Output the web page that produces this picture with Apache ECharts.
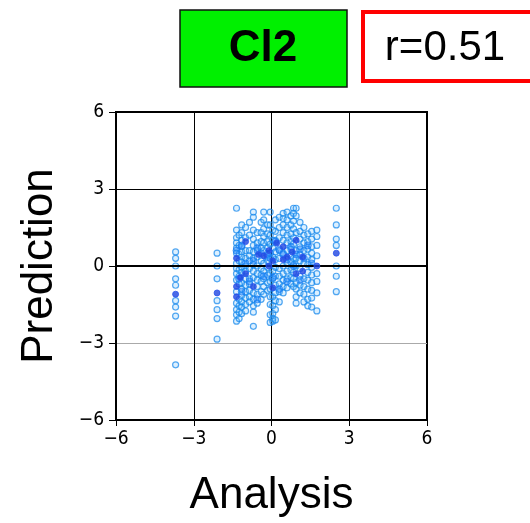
<!DOCTYPE html>
<html><head><meta charset="utf-8">
<script src="https://cdn.jsdelivr.net/npm/echarts@6/dist/echarts.min.js"></script>
<style>html,body{margin:0;padding:0;background:#fff}#c{width:530px;height:523px}</style>
</head><body><div id="c"></div>
<script>
const titleText = "Cl2";
const corrText = "r=0.51";
const xName = "Analysis";
const yName = "Prediction";
const axisMin = -6, axisMax = 6, axisStep = 3;

// Analysis value of each column of points
const colAnalysis = [-3.7, -2.1, -1.35, -1.25, -1.15, -1.0, -0.85, -0.7, -0.55, -0.4, -0.3, -0.15, -0.05, 0.05, 0.15, 0.3, 0.45, 0.6, 0.75, 0.85, 0.95, 1.1, 1.25, 1.4, 1.55, 1.75, 2.5];
// Prediction values in each column (hollow markers)
const colPrediction = [
  [0.55, 0.3, 0.0, -0.5, -0.75, -1.35, -1.6, -1.95, -3.85],
  [0.5, 0.0, -0.5, -1.35, -1.7, -2.05, -2.85],
  [2.25, 1.4, 1.1, 0.9, 0.7, 0.5, 0.1, -0.1, -0.3, -0.55, -1.0, -1.45, -1.7, -1.9, -2.15],
  [1.2, 0.8, 0.45, 0.2, -0.15, -0.4, -0.7, -1.3, -1.55, -1.8, -2.05],
  [1.6, 1.3, 1.0, 0.75, 0.55, 0.35, 0.15, -0.05, -0.25, -0.65, -0.9, -1.15, -1.4, -1.6, -1.85],
  [1.5, 1.1, 0.6, 0.3, 0.0, -0.2, -0.5, -0.75, -1.0, -1.25, -1.5, -1.75],
  [1.7, 1.2, 0.6, 0.4, 0.2, -0.1, -0.5, -0.7, -0.95, -1.2, -1.4],
  [2.1, 1.9, 1.4, 1.05, 0.8, 0.55, 0.3, 0.05, -0.2, -0.45, -1.05, -1.3, -1.55, -1.8, -2.35],
  [1.3, 0.9, 0.6, 0.35, 0.0, -0.3, -0.55, -0.8, -1.1, -1.45],
  [1.7, 1.3, 0.95, 0.7, 0.2, -0.1, -0.35, -0.6, -1.0, -1.3],
  [2.1, 1.8, 1.45, 1.15, 0.9, 0.6, 0.1, -0.2, -0.5, -0.8, -1.1],
  [1.6, 1.25, 0.95, 0.7, 0.45, 0.2, -0.05, -0.35, -0.65, -0.95],
  [2.1, 1.6, 1.2, 0.85, 0.3, -0.3, -0.6, -0.9, -1.2, -1.5, -1.9, -2.2],
  [1.4, 1.0, 0.7, 0.35, 0.1, -0.2, -0.5, -1.2, -1.55, -1.85, -2.05, -2.15],
  [1.8, 1.35, 1.0, 0.55, 0.25, -0.05, -0.4, -0.75, -1.05, -1.35, -1.7, -2.1],
  [1.9, 1.5, 1.1, 0.6, 0.3, -0.1, -0.4, -0.7, -1.0, -1.4],
  [2.05, 1.85, 1.6, 1.3, 1.0, 0.5, 0.0, -0.3, -0.55, -0.8, -1.05],
  [2.1, 1.8, 1.5, 1.2, 0.9, 0.6, 0.1, -0.2, -0.5, -0.85],
  [1.95, 1.6, 1.25, 0.95, 0.65, 0.4, 0.15, -0.15, -0.45, -0.7],
  [2.25, 2.05, 1.75, 1.45, 1.1, 0.85, 0.3, 0.05, -0.25, -0.5, -0.8],
  [2.25, 1.95, 1.3, 0.6, 0.3, 0.0, -0.65, -0.9, -1.2, -1.45],
  [1.7, 1.35, 1.05, 0.75, 0.45, 0.2, -0.1, -0.4, -0.75, -1.05],
  [1.5, 1.2, 0.9, 0.6, 0.1, -0.5, -0.8, -1.1, -1.4],
  [1.25, 0.95, 0.65, 0.35, 0.05, -0.25, -0.55, -0.9, -1.3, -1.55],
  [1.35, 1.05, 0.75, 0.5, 0.25, -0.05, -0.35, -0.65, -0.95, -1.25, -1.6],
  [1.4, 1.15, 0.8, 0.4, -0.3, -0.6, -1.05, -1.75],
  [2.25, 1.6, 1.05, 0.8, 0.0, -0.4, -1.0]
];
// Mid-tone markers (several points overlapping)
const midAnalysis = [-1.35, -1.25, -1.15, -1.0, -0.85, -0.7, -0.55, -0.4, -0.3, -0.15, -0.05, 0.05, 0.15, 0.3, 0.45, 0.6, 0.75, 0.85, 0.95, 1.1, 1.25, 1.4, 1.55, -1.15, -0.55, 0.3, 0.6, 1.1];
const midPrediction = [0.6, -0.5, 0.8, 0.1, -0.6, 0.2, 0.7, 0.5, -0.4, 0.35, 0.5, -0.45, 0.95, 0.65, 0.45, 0.25, 0.75, 0.0, 0.45, 0.65, 0.3, 0.8, 0.1, -1.0, -1.3, -0.9, -0.6, -0.55];
// Dark (heavily overlapping) markers
const denseAnalysis = [-3.7, -2.1, -1.35, -1.35, -1.35, -1.2, -1.0, -1.0, -0.7, -0.5, -0.3, -0.1, -0.1, 0.05, 0.05, 0.2, 0.45, 0.45, 0.6, 0.8, 0.95, 0.95, 1.2, 1.2, 1.75, 2.5];
const densePrediction = [-1.1, -1.05, 0.3, -0.8, -1.2, -0.45, 0.95, -0.3, -0.8, 0.45, 0.4, 0.6, 0.0, -0.85, 0.2, 0.9, 0.75, 0.25, 0.35, 0.55, 1.0, -0.3, 0.35, -0.2, 0.0, 0.5];

const hollow = [];
colAnalysis.forEach((a, i) => colPrediction[i].forEach(p => hollow.push([a, p])));
const mid = midAnalysis.map((a, i) => [a, midPrediction[i]]);
const dense = denseAnalysis.map((a, i) => [a, densePrediction[i]]);

const fmt = v => String(v).replace('-', '\u2212');
const tickFont = {fontFamily: "'DejaVu Sans Condensed','Liberation Sans Narrow',sans-serif", fontSize: 19, color: '#000'};

const chart = echarts.init(document.getElementById('c'), null, {renderer: 'canvas'});
chart.setOption({
  animation: false,
  grid: {left: 116, right: 103, top: 112, bottom: 101, show: true, borderColor: '#000', borderWidth: 2, backgroundColor: '#fff'},
  xAxis: {
    type: 'value', min: axisMin, max: axisMax, interval: axisStep,
    name: xName, nameLocation: 'middle', nameGap: 54,
    nameTextStyle: {fontFamily: "'Liberation Sans',Arial,sans-serif", fontSize: 44, color: '#000'},
    axisLine: {show: true, onZero: false, lineStyle: {color: '#000', width: 2}},
    axisTick: {show: true, length: 6, lineStyle: {color: '#000', width: 1}},
    axisLabel: Object.assign({margin: 10, formatter: fmt}, tickFont),
    splitLine: {show: true, lineStyle: {color: '#000', width: 1}}
  },
  yAxis: {
    type: 'value', min: axisMin, max: axisMax, interval: axisStep,
    name: yName, nameLocation: 'middle', nameGap: 54, nameRotate: 90,
    nameTextStyle: {fontFamily: "'Liberation Sans',Arial,sans-serif", fontSize: 44, color: '#000'},
    axisLine: {show: true, onZero: false, lineStyle: {color: '#000', width: 2}},
    axisTick: {show: true, length: 7, lineStyle: {color: '#000', width: 1}},
    axisLabel: Object.assign({margin: 12, formatter: fmt}, tickFont),
    splitLine: {show: true, lineStyle: {color: ['#000', '#aaa', '#000', '#000', '#000'], width: 1}}
  },
  series: [
    {
      type: 'scatter', data: hollow, symbol: 'circle', symbolSize: 6,
      itemStyle: {color: 'rgba(110,195,255,0.3)', borderColor: 'rgba(20,135,235,0.9)', borderWidth: 1.2},
      markLine: {
        silent: true, symbol: 'none', label: {show: false},
        lineStyle: {color: '#000', width: 2, type: 'solid'},
        data: [{yAxis: 0}]
      },
      z: 3
    },
    {
      type: 'scatter', data: mid, symbol: 'circle', symbolSize: 7,
      itemStyle: {color: 'rgba(30,130,250,0.65)', borderColor: 'rgba(20,120,240,0.8)', borderWidth: 1},
      z: 4
    },
    {
      type: 'scatter', data: dense, symbol: 'circle', symbolSize: 6,
      itemStyle: {color: '#1f45e0', borderColor: '#2a55ee', borderWidth: 1},
      z: 5
    }
  ],
  graphic: [
    {type: 'rect', shape: {x: 180, y: 10, width: 167, height: 77}, style: {fill: '#00f000', stroke: '#111', lineWidth: 1.5}},
    {type: 'text', x: 263, y: 49, style: {text: titleText, fill: '#000', font: "bold 44px 'Liberation Sans',Arial,sans-serif", textAlign: 'center', textVerticalAlign: 'middle'}},
    {type: 'rect', shape: {x: 363, y: 12, width: 180, height: 69}, style: {fill: '#fff', stroke: '#ff0000', lineWidth: 4}},
    {type: 'text', x: 445, y: 48, style: {text: corrText, fill: '#000', font: "42px 'Liberation Sans',Arial,sans-serif", textAlign: 'center', textVerticalAlign: 'middle'}}
  ]
});
</script>
</body></html>
